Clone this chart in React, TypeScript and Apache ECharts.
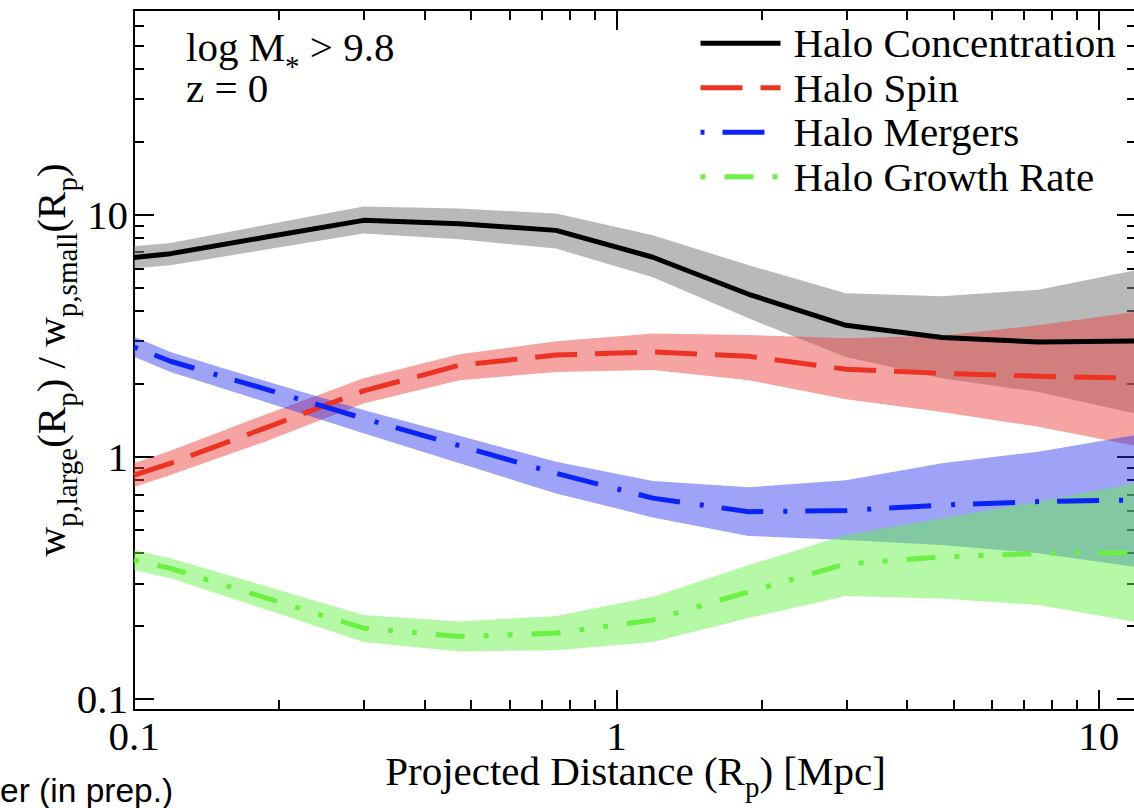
import React, { useEffect, useRef } from 'react';
import * as echarts from 'echarts';

// ---------------- data ----------------
const distances = [0.1, 0.119, 0.188, 0.299, 0.473, 0.75, 1.19, 1.88, 2.99, 4.73, 7.5, 11.9];

const concentration = [6.65, 6.9, 8.08, 9.47, 9.18, 8.61, 6.67, 4.69, 3.49, 3.11, 2.98, 3.01];
const concentrationUpper = [7.4, 7.64, 9.08, 10.8, 10.6, 10.1, 8.22, 6.18, 4.74, 4.6, 4.9, 5.89];
const concentrationLower = [6.0, 6.18, 7.17, 8.35, 7.91, 7.24, 5.51, 3.73, 2.58, 2.11, 1.85, 1.51];

const spin = [0.84, 0.94, 1.32, 1.87, 2.39, 2.63, 2.71, 2.6, 2.3, 2.21, 2.15, 2.11];
const spinUpper = [0.94, 1.06, 1.5, 2.11, 2.65, 3.0, 3.23, 3.18, 3.09, 3.16, 3.49, 3.97];
const spinLower = [0.75, 0.84, 1.16, 1.66, 2.07, 2.24, 2.28, 2.07, 1.73, 1.53, 1.33, 1.11];

const mergers = [2.84, 2.48, 1.9, 1.44, 1.11, 0.854, 0.675, 0.593, 0.6, 0.632, 0.653, 0.663];
const mergersUpper = [3.13, 2.71, 2.05, 1.56, 1.22, 0.954, 0.794, 0.748, 0.8, 0.94, 1.05, 1.23];
const mergersLower = [2.59, 2.24, 1.68, 1.25, 0.94, 0.706, 0.562, 0.471, 0.453, 0.432, 0.4, 0.351];

const growthRate = [0.375, 0.346, 0.261, 0.196, 0.181, 0.187, 0.212, 0.277, 0.361, 0.386, 0.399, 0.402];
const growthRateUpper = [0.412, 0.381, 0.292, 0.222, 0.209, 0.22, 0.264, 0.357, 0.475, 0.557, 0.652, 0.779];
const growthRateLower = [0.341, 0.315, 0.234, 0.172, 0.157, 0.159, 0.172, 0.216, 0.266, 0.26, 0.244, 0.208];

const seriesNames = ['Halo Concentration', 'Halo Spin', 'Halo Mergers', 'Halo Growth Rate'];

const xRange = [0.1, 12];
const yRange = [0.09, 70];
const xMajorTicks = [0.1, 1, 10];
const xMinorTicks = [0.2, 0.3, 0.4, 0.5, 0.6, 0.7, 0.8, 0.9, 2, 3, 4, 5, 6, 7, 8, 9];
const yMajorTicks = [0.1, 1, 10];
const yMinorTicks = [0.2, 0.3, 0.4, 0.5, 0.6, 0.7, 0.8, 0.9, 2, 3, 4, 5, 6, 7, 8, 9, 20, 30, 40, 50, 60];

// ---------------- styling ----------------
const SERIF = "'Liberation Serif', 'Times New Roman', Times, serif";
const SANS = "'Liberation Sans', Arial, Helvetica, sans-serif";
const FS = 41;
const SUB = 29;
const LH = 41;
const frame = { color: '#000', width: 2 };

const makeRich = (lh: number) => ({
  m: { fontSize: FS, fontFamily: SERIF, color: '#000', verticalAlign: 'middle', lineHeight: lh },
  s: { fontSize: SUB, fontFamily: SERIF, color: '#000', verticalAlign: 'middle', lineHeight: lh, padding: [32, 0, 0, 0] },
});

const fmt = (v: number) => String(parseFloat(Number(v).toPrecision(4)));

function makeAxis(kind: 'x' | 'y', position: string, ticks: number[], len: number, main: boolean, extra: any = {}) {
  const range = kind === 'x' ? xRange : yRange;
  return {
    type: 'log',
    logBase: 10,
    min: range[0],
    max: range[1],
    position,
    axisLine: { show: main, onZero: false, lineStyle: frame },
    axisTick: { show: true, inside: true, length: len, lineStyle: frame, customValues: ticks },
    axisLabel: { show: false },
    splitLine: { show: false },
    minorTick: { show: false },
    minorSplitLine: { show: false },
    ...extra,
  };
}

function bandSeries(lower: number[], upper: number[], color: string) {
  return {
    type: 'custom',
    silent: true,
    clip: true,
    encode: { x: 0, y: [1, 2] },
    data: distances.map((x, i) => [x, lower[i], upper[i]]),
    renderItem: (params: any, api: any) => {
      if (params.dataIndexInside !== 0) return null;
      const n = params.dataInsideLength;
      const top: number[][] = [];
      const bottom: number[][] = [];
      for (let j = 0; j < n; j++) {
        top.push(api.coord([api.value(0, j), api.value(2, j)]));
        bottom.push(api.coord([api.value(0, j), api.value(1, j)]));
      }
      return {
        type: 'polygon',
        shape: { points: top.concat(bottom.reverse()) },
        style: { fill: color, stroke: 'none' },
      };
    },
    z: 1,
  };
}

function lineSeries(name: string, values: number[], color: string, dash: any, offset = 0) {
  return {
    type: 'line',
    name,
    data: distances.map((x, i) => [x, values[i]]),
    symbol: 'none',
    showSymbol: false,
    color,
    itemStyle: { color },
    lineStyle: { color, width: 5, type: dash, dashOffset: offset, cap: 'butt', join: 'round' },
    clip: true,
    z: 3,
  };
}

export default function App() {
  const ref = useRef<HTMLDivElement>(null);

  useEffect(() => {
    if (!ref.current) return;
    const chart = echarts.init(ref.current, undefined, { renderer: 'svg' });

    const option: any = {
      animation: false,
      backgroundColor: '#fff',
      grid: { left: 134, right: -3, top: 10, bottom: 98, containLabel: false, outerBoundsMode: 'none' },
      xAxis: [
        makeAxis('x', 'bottom', xMajorTicks, 20, true, {
          axisLabel: {
            show: true,
            customValues: xMajorTicks,
            formatter: fmt,
            margin: 11,
            lineHeight: 30,
            color: '#000',
            fontSize: FS,
            fontFamily: SERIF,
          },
          name: '{m|Projected Distance (R}{s|p}{m|) [Mpc]}',
          nameLocation: 'middle',
          nameGap: 42,
          nameMoveOverlap: false,
          nameTextStyle: { fontSize: FS, fontFamily: SERIF, color: '#000', rich: makeRich(37) },
        }),
        makeAxis('x', 'bottom', xMinorTicks, 10, false),
        makeAxis('x', 'top', xMajorTicks, 20, true),
        makeAxis('x', 'top', xMinorTicks, 10, false),
      ],
      yAxis: [
        makeAxis('y', 'left', yMajorTicks, 20, true, {
          axisLabel: {
            show: true,
            customValues: yMajorTicks,
            formatter: fmt,
            margin: 6,
            color: '#000',
            fontSize: FS,
            fontFamily: SERIF,
          },
          name: '{m|w}{s|p,large}{m|(R}{s|p}{m|) / w}{s|p,small}{m|(R}{s|p}{m|)}',
          nameLocation: 'middle',
          nameRotate: 90,
          nameGap: 63,
          nameMoveOverlap: false,
          nameTextStyle: { fontSize: FS, fontFamily: SERIF, color: '#000', rich: makeRich(LH) },
        }),
        makeAxis('y', 'left', yMinorTicks, 10, false),
        makeAxis('y', 'right', yMajorTicks, 20, true),
        makeAxis('y', 'right', yMinorTicks, 10, false),
      ],
      legend: {
        data: seriesNames,
        orient: 'vertical',
        left: 698,
        top: 21,
        itemWidth: 80,
        itemHeight: 14,
        itemGap: 0,
        padding: 0,
        selectedMode: false,
        itemStyle: { opacity: 0 },
        lineStyle: { width: 5, cap: 'butt' },
        textStyle: { fontSize: FS, fontFamily: SERIF, color: '#000', lineHeight: 44.5, padding: [0, 0, 0, 8] },
      },
      graphic: [
        {
          type: 'text',
          x: 186,
          y: 46.5,
          style: {
            text: '{m|log M}{a|*}{m| > 9.8}',
            align: 'left',
            verticalAlign: 'middle',
            rich: {
              m: { fontSize: FS, fontFamily: SERIF, fill: '#000', verticalAlign: 'middle', lineHeight: LH },
              a: { fontSize: SUB, fontFamily: SERIF, fill: '#000', verticalAlign: 'middle', lineHeight: LH, padding: [38, 0, 0, 0] },
            },
          },
        },
        {
          type: 'text',
          x: 186,
          y: 88,
          style: { text: 'z = 0', fontSize: FS, fontFamily: SERIF, fill: '#000', align: 'left', verticalAlign: 'middle' },
        },
        {
          type: 'text',
          x: 0,
          y: 790,
          style: { text: 'er (in prep.)', fontSize: 33.5, fontFamily: SANS, fill: '#000', align: 'left', verticalAlign: 'middle' },
        },
      ],
      series: [
        bandSeries(concentrationLower, concentrationUpper, 'rgba(128,128,128,0.55)'),
        bandSeries(spinLower, spinUpper, 'rgba(235,60,60,0.47)'),
        bandSeries(mergersLower, mergersUpper, 'rgba(40,50,240,0.45)'),
        bandSeries(growthRateLower, growthRateUpper, 'rgba(100,240,70,0.48)'),
        lineSeries(seriesNames[0], concentration, '#000000', 'solid'),
        lineSeries(seriesNames[1], spin, '#ec3323', [42, 18]),
        lineSeries(seriesNames[2], mergers, '#0b24f5', [42, 20, 4, 18], 62),
        lineSeries(seriesNames[3], growthRate, '#6cf043', [29, 19, 5, 19, 5, 19], 72),
      ],
    };

    chart.setOption(option);
    return () => chart.dispose();
  }, []);

  return (
    <div
      ref={ref}
      style={{ position: 'absolute', left: 0, top: 0, width: 1134, height: 808, background: '#fff' }}
    />
  );
}
